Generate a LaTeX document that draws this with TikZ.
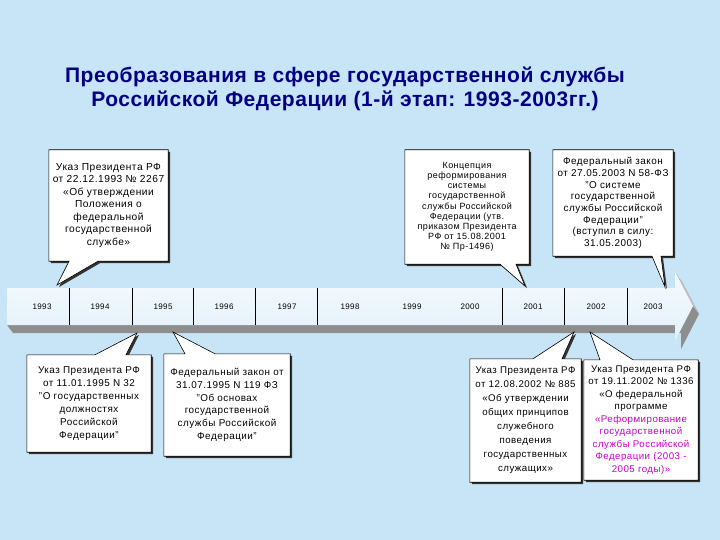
\documentclass[tikz,border=0pt]{standalone}
\usepackage{fontspec}
\setmainfont{Liberation Sans}[LetterSpace=5]
\newfontfamily\titlefont{Liberation Sans}[LetterSpace=2.5]
\usetikzlibrary{calc}
\pgfdeclarelayer{back}
\pgfdeclarelayer{bg}
\pgfsetlayers{back,bg,main}
\definecolor{bgc}{HTML}{C7E5F7}
\definecolor{navy}{HTML}{000080}
\definecolor{magentatxt}{HTML}{CC00CC}
\definecolor{barshadow}{HTML}{8E8E8E}
\definecolor{barlight}{HTML}{F4FAFE}
\definecolor{barmid}{HTML}{E3F1FB}
\newcommand\qq{\symbol{34}}
\tikzset{
  calbox/.style={inner sep=0pt, align=center},
  calshape/.style={fill=white, draw=black, line width=0.6pt, line join=miter},
  calshadow/.style={fill=black!80},
  yearlab/.style={font=\fontsize{8}{9.6}\selectfont, inner sep=0pt},
  divider/.style={draw=black, line width=0.7pt},
  titlestyle/.style={font=\titlefont\bfseries\fontsize{21}{24}\selectfont, text=navy, align=center},
}
% callout with tail below the box
\newcommand\CallTop[4]{%
  \coordinate (#1bl) at (#2,0);
  \coordinate (#1br) at (#3,0);
  \begin{pgfonlayer}{bg}
  \fill[calshadow, transform canvas={shift={(2,2)}}] (#1.north west) -- (#1.north east) -- (#1.south east) -- (#1.south -| #1br) -- (#4) -- (#1.south -| #1bl) -- (#1.south west) -- cycle;
  \filldraw[calshape] (#1.north west) -- (#1.north east) -- (#1.south east) -- (#1.south -| #1br) -- (#4) -- (#1.south -| #1bl) -- (#1.south west) -- cycle;
  \end{pgfonlayer}}
% callout with tail above the box
\newcommand\CallBot[4]{%
  \coordinate (#1bl) at (#2,0);
  \coordinate (#1br) at (#3,0);
  \begin{pgfonlayer}{bg}
  \fill[calshadow, transform canvas={shift={(2,2)}}] (#1.north west) -- (#1.north -| #1bl) -- (#4) -- (#1.north -| #1br) -- (#1.north east) -- (#1.south east) -- (#1.south west) -- cycle;
  \filldraw[calshape] (#1.north west) -- (#1.north -| #1bl) -- (#4) -- (#1.north -| #1br) -- (#1.north east) -- (#1.south east) -- (#1.south west) -- cycle;
  \end{pgfonlayer}}
\begin{document}
\begin{tikzpicture}[x=1pt,y=-1pt]
\useasboundingbox (0,0) rectangle (720,540);
\begin{pgfonlayer}{back}
\fill[bgc] (0,0) rectangle (720,540);
\end{pgfonlayer}

% title
\node[titlestyle] (title) at (345,89) {Преобразования в сфере государственной службы\\Российской Федерации (1-й этап: 1993-2003гг.)};

% timeline bar
\begin{pgfonlayer}{bg}
\fill[barshadow] (13,296) -- (681,296) -- (681,280) -- (699,314) -- (681,349) -- (681,333) -- (13,333) -- cycle;
\fill[barshadow] (7,288) -- (13,296) -- (13,333) -- (7,325) -- cycle;
\fill[black!25] (675,272) -- (681,280) -- (699,314) -- (693,306) -- cycle;
\shade[top color=barlight, bottom color=barmid] (7,288) -- (675,288) -- (675,272) -- (693,306) -- (675,341) -- (675,325) -- (7,325) -- cycle;
\foreach \x in {69,132,193,255,317,502,564,627}{\draw[divider] (\x,288) -- (\x,325);}
\end{pgfonlayer}

\node[yearlab] (y1993) at (42,307) {1993};
\node[yearlab] (y1994) at (100,307) {1994};
\node[yearlab] (y1995) at (163,307) {1995};
\node[yearlab] (y1996) at (224,307) {1996};
\node[yearlab] (y1997) at (287,307) {1997};
\node[yearlab] (y1998) at (350,307) {1998};
\node[yearlab] (y1999) at (412,307) {1999};
\node[yearlab] (y2000) at (470,307) {2000};
\node[yearlab] (y2001) at (533,307) {2001};
\node[yearlab] (y2002) at (596,307) {2002};
\node[yearlab] (y2003) at (653,307) {2003};

% top callouts
\node[calbox, font=\fontsize{10.2}{12.5}\selectfont, minimum width=119pt, minimum height=111pt] (b1) at (108.5,205.5)
 {Указ Президента РФ\\от 22.12.1993 № 2267\\«Об утверждении\\Положения о\\федеральной\\государственной\\службе»};
\coordinate (tip1) at (57,285);
\CallTop{b1}{69}{98}{tip1}

\node[calbox, font=\fontsize{9}{10.2}\selectfont, minimum width=124pt, minimum height=114pt] (b2) at (467,207)
 {Концепция\\реформирования\\системы\\государственной\\службы Российской\\Федерации (утв.\\приказом Президента\\РФ от 15.08.2001\\№ Пр-1496)};
\coordinate (tip2) at (525,286);
\CallTop{b2}{500}{516}{tip2}

\node[calbox, font=\fontsize{9.9}{11.7}\selectfont, minimum width=120pt, minimum height=106pt] (b3) at (613,203)
 {Федеральный закон\\от 27.05.2003 N 58-ФЗ\\\qq О системе\\государственной\\службы Российской\\Федерации\qq\\(вступил в силу:\\31.05.2003)};
\coordinate (tip3) at (665,287);
\CallTop{b3}{652}{661}{tip3}

% bottom callouts
\node[calbox, font=\fontsize{9.9}{13}\selectfont, minimum width=124pt, minimum height=97pt] (b4) at (89,403.5)
 {Указ Президента РФ\\от 11.01.1995 N 32\\\qq О государственных\\должностях\\Российской\\Федерации\qq};
\coordinate (tip4) at (137,333);
\CallBot{b4}{95}{126}{tip4}

\node[calbox, font=\fontsize{9.9}{12.7}\selectfont, minimum width=126pt, minimum height=102pt] (b5) at (227,405)
 {Федеральный закон от\\31.07.1995 N 119 ФЗ\\\qq Об основах\\государственной\\службы Российской\\Федерации\qq};
\coordinate (tip5) at (173,332);
\CallBot{b5}{185}{215}{tip5}

\node[calbox, font=\fontsize{9.7}{14}\selectfont, minimum width=111pt, minimum height=123pt] (b6) at (525.5,420.5)
 {Указ Президента РФ\\от 12.08.2002 № 885\\«Об утверждении\\общих принципов\\служебного\\поведения\\государственных\\служащих»};
\coordinate (tip6) at (574,332);
\CallBot{b6}{533}{562}{tip6}

\node[calbox, font=\fontsize{9.7}{12.5}\selectfont, minimum width=114pt, minimum height=120pt] (b7) at (641,420)
 {Указ Президента РФ\\от 19.11.2002 № 1336\\«О федеральной\\программе\\\textcolor{magentatxt}{«Реформирование}\\\textcolor{magentatxt}{государственной}\\\textcolor{magentatxt}{службы Российской}\\\textcolor{magentatxt}{Федерации (2003 -}\\\textcolor{magentatxt}{2005 годы)»}};
\coordinate (tip7) at (590,332);
\CallBot{b7}{600}{633}{tip7}
\end{tikzpicture}
\end{document}
